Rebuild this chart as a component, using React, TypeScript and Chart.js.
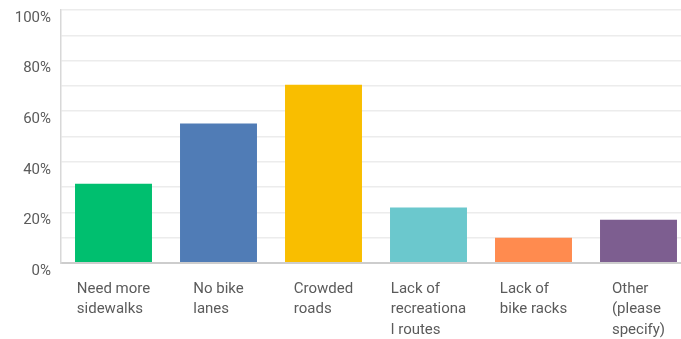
import React, { useEffect, useRef } from "react";
import { Chart, registerables } from "chart.js";

Chart.register(...registerables);

const categories: string[][] = [
  ["Need more", "sidewalks"],
  ["No bike", "lanes"],
  ["Crowded", "roads"],
  ["Lack of", "recreationa", "l routes"],
  ["Lack of", "bike racks"],
  ["Other", "(please", "specify)"],
];
const values: number[] = [31.3, 55.1, 70.5, 21.9, 10.0, 17.1];
const barColors: string[] = ["#00BF6F", "#507CB6", "#F9BE00", "#6BC8CD", "#FF8B4F", "#7D5E90"];
const yTickStep = 10;
const yLabelStep = 20;
const yMax = 100;

const FONT = "Roboto, 'DejaVu Sans', sans-serif";
const TEXT = "#5b5b5b";

const xLabelPlugin = {
  id: "xLabelBlocks",
  afterDraw(chart: any) {
    const ctx = chart.ctx;
    const xs = chart.scales.x;
    const bottom = chart.chartArea.bottom;
    ctx.save();
    ctx.font = `15px ${FONT}`;
    ctx.fillStyle = TEXT;
    ctx.textAlign = "left";
    ctx.textBaseline = "alphabetic";
    categories.forEach((lines, i) => {
      const cx = xs.getPixelForValue(i);
      const w = Math.max(...lines.map((l) => ctx.measureText(l).width));
      const left = cx - w / 2;
      lines.forEach((line, k) => {
        ctx.fillText(line, left, bottom + 30 + k * 20.3);
      });
    });
    ctx.restore();
  },
};

export default function App() {
  const ref = useRef<HTMLCanvasElement>(null);
  useEffect(() => {
    document.body.style.margin = "0";
    document.documentElement.style.overflow = "hidden";
    const chart = new Chart(ref.current!, {
      type: "bar",
      data: {
        labels: categories.map((c) => c.join(" ")),
        datasets: [
          {
            data: values,
            backgroundColor: barColors,
            barPercentage: 0.733,
            categoryPercentage: 1,
          },
        ],
      },
      options: {
        responsive: false,
        animation: false,
        layout: { padding: { top: 10, bottom: 76, left: 0, right: 9 } },
        plugins: { legend: { display: false }, tooltip: { enabled: false } },
        scales: {
          x: {
            offset: true,
            grid: { display: false },
            ticks: { display: false },
            border: { display: true, color: "#cdcdcd", width: 2 },
            afterFit: (s: any) => {
              s.height = 0;
            },
          },
          y: {
            min: 0,
            max: yMax,
            grid: {
              color: (c: any) => (c.tick && c.tick.value === 0 ? "#cdcdcd" : "#ececec"),
              lineWidth: (c: any) => (c.tick && c.tick.value === 0 ? 2 : 1.5),
              drawTicks: false,
            },
            border: { display: true, color: "#d8d8d8", width: 1.5 },
            ticks: {
              stepSize: yTickStep,
              padding: 10,
              labelOffset: 8,
              color: TEXT,
              font: { family: FONT, size: 15 },
              callback: (v: any) => (Number(v) % yLabelStep === 0 ? `${v}%` : ""),
            },
            afterFit: (s: any) => {
              s.width = 61;
              s.paddingTop = 0;
              s.paddingBottom = 0;
            },
          },
        },
      },
      plugins: [xLabelPlugin],
    });
    return () => chart.destroy();
  }, []);
  return (
    <div style={{ width: 681, height: 339, overflow: "hidden", position: "relative", background: "#fff" }}>
      <canvas ref={ref} width={700} height={339} style={{ display: "block" }} />
    </div>
  );
}
